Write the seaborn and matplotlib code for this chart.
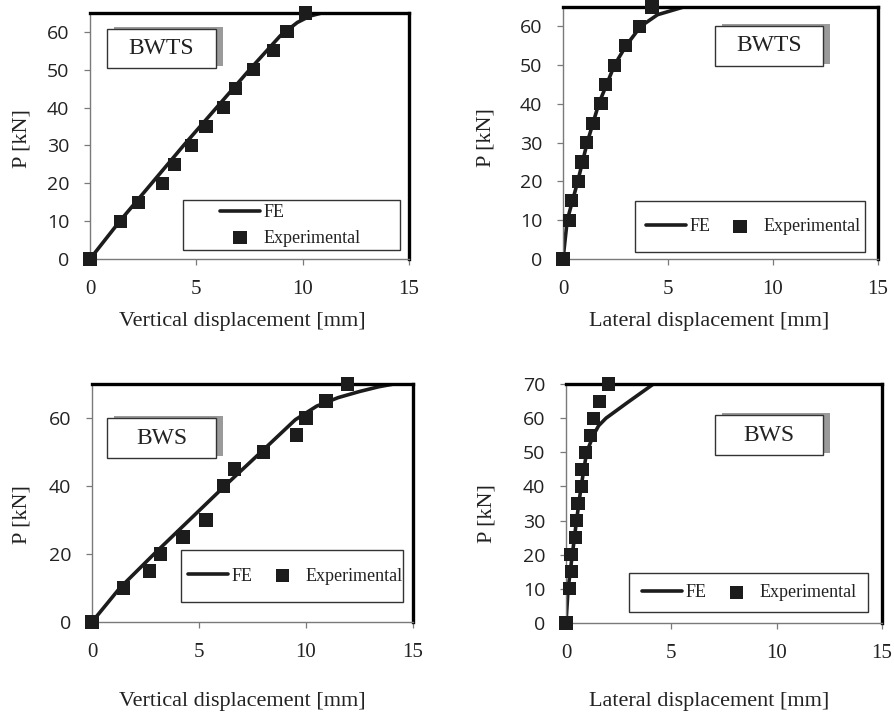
import numpy as np
import pandas as pd
import seaborn as sns
import matplotlib.pyplot as plt
from matplotlib.patches import Rectangle

# BWTS - vertical displacement
bwts_v_exp_x = [0, 1.44, 2.28, 3.40, 3.99, 4.76, 5.45, 6.29, 6.85, 7.67, 8.64, 9.26, 10.13]
bwts_v_exp_p = [0, 10, 15, 20, 25, 30, 35, 40, 45, 50, 55, 60, 65]
bwts_v_fe_x = [0, 1.4, 2.9, 4.4, 5.95, 7.5, 8.95, 9.75, 10.35, 10.9]
bwts_v_fe_p = [0, 10, 20, 30, 40, 50, 59, 62.5, 64.2, 65]

# BWTS - lateral displacement
bwts_l_exp_x = [0, 0.32, 0.42, 0.73, 0.90, 1.11, 1.43, 1.81, 2.02, 2.44, 2.97, 3.65, 4.24]
bwts_l_exp_p = [0, 10, 15, 20, 25, 30, 35, 40, 45, 50, 55, 60, 65]
bwts_l_fe_x = [0, 0.2, 0.45, 0.7, 1.15, 1.7, 2.45, 3.0, 3.7, 4.5, 5.75]
bwts_l_fe_p = [0, 10, 15, 20, 30, 40, 50, 55, 60, 63, 65]

# BWS - vertical displacement
bws_v_exp_x = [0, 1.48, 2.67, 3.19, 4.25, 5.33, 6.14, 6.66, 8.01, 9.56, 10.0, 10.93, 11.93]
bws_v_exp_p = [0, 10, 15, 20, 25, 30, 40, 45, 50, 55, 60, 65, 70]
bws_v_fe_x = [0, 1.3, 2.9, 4.55, 6.2, 7.9, 9.5, 10.5, 11.5, 12.5, 13.4, 14.1]
bws_v_fe_p = [0, 10, 20, 30, 40, 50, 59.5, 63.5, 66, 67.8, 69.2, 70]

# BWS - lateral displacement
bws_l_exp_x = [0, 0.16, 0.25, 0.24, 0.44, 0.49, 0.57, 0.73, 0.76, 0.92, 1.16, 1.31, 1.60, 2.03]
bws_l_exp_p = [0, 10, 15, 20, 25, 30, 35, 40, 45, 50, 55, 60, 65, 70]
bws_l_fe_x = [0, 0.1, 0.3, 0.5, 0.72, 0.98, 1.3, 1.55, 1.9, 2.9, 4.15]
bws_l_fe_p = [0, 10, 20, 30, 40, 50, 55, 57.8, 60, 64.5, 70]

panels = [
    dict(pos=[0.1007, 0.6388, 0.3568, 0.3431], fe=(bwts_v_fe_x, bwts_v_fe_p),
         exp=(bwts_v_exp_x, bwts_v_exp_p), ymax=65, yticks=range(0, 61, 10),
         xlabel='Vertical displacement [mm]', name='BWTS',
         box=(0.053, 0.776, 0.342, 0.159),
         frame=(0.292, 0.037, 0.680, 0.203), anchor=(0.408, 0.136), ncol=1,
         xl=(0.476, -0.256), yl=(-0.213, 0.49)),
    dict(pos=[0.6298, 0.6388, 0.3523, 0.3515], fe=(bwts_l_fe_x, bwts_l_fe_p),
         exp=(bwts_l_exp_x, bwts_l_exp_p), ymax=65, yticks=range(0, 61, 10),
         xlabel='Lateral displacement [mm]', name='BWTS',
         box=(0.483, 0.766, 0.342, 0.159),
         frame=(0.229, 0.028, 0.730, 0.202), anchor=(0.263, 0.129), ncol=2,
         xl=(0.463, -0.25), yl=(-0.244, 0.48)),
    dict(pos=[0.1029, 0.1325, 0.3591, 0.3319], fe=(bws_v_fe_x, bws_v_fe_p),
         exp=(bws_v_exp_x, bws_v_exp_p), ymax=70, yticks=range(0, 61, 20),
         xlabel='Vertical displacement [mm]', name='BWS',
         box=(0.047, 0.689, 0.339, 0.168),
         frame=(0.277, 0.084, 0.692, 0.219), anchor=(0.299, 0.193), ncol=2,
         xl=(0.467, -0.336), yl=(-0.218, 0.45)),
    dict(pos=[0.6331, 0.1311, 0.3535, 0.3333], fe=(bws_l_fe_x, bws_l_fe_p),
         exp=(bws_l_exp_x, bws_l_exp_p), ymax=70, yticks=range(0, 71, 10),
         xlabel='Lateral displacement [mm]', name='BWS',
         box=(0.472, 0.703, 0.341, 0.167),
         frame=(0.199, 0.046, 0.757, 0.163), anchor=(0.241, 0.126), ncol=2,
         xl=(0.453, -0.33), yl=(-0.25, 0.456)),
]

sns.set_theme(style='white')
plt.rcParams['font.family'] = ['Liberation Serif', 'DejaVu Serif']

fig = plt.figure(figsize=(8.94, 7.17), dpi=100)
ink = '#1c1c1c'

for p in panels:
    ax = fig.add_axes(p['pos'])
    fe = pd.DataFrame({'x': p['fe'][0], 'P': p['fe'][1]})
    ex = pd.DataFrame({'x': p['exp'][0], 'P': p['exp'][1]})
    sns.lineplot(data=fe, x='x', y='P', sort=False, color=ink, linewidth=2.6,
                 label='FE', ax=ax)
    sns.scatterplot(data=ex, x='x', y='P', marker='s', s=90, color=ink,
                    edgecolor='none', label='Experimental', ax=ax, clip_on=False,
                    zorder=5)
    ax.set_xlim(0, 15)
    ax.set_ylim(0, p['ymax'])
    ax.set_xticks([0, 5, 10, 15])
    ax.set_yticks(list(p['yticks']))

    for s in ['top', 'right']:
        ax.spines[s].set_color('black')
        ax.spines[s].set_linewidth(2.4)
    for s in ['left', 'bottom']:
        ax.spines[s].set_color('#7a7a7a')
        ax.spines[s].set_linewidth(1.0)

    ax.tick_params(axis='both', direction='out', length=4, width=0.9,
                   color='#7a7a7a', bottom=True, left=True)
    ax.tick_params(axis='x', pad=11, labelsize=15)
    ax.tick_params(axis='y', pad=11, labelsize=14)
    for t in ax.get_yticklabels():
        t.set_fontfamily('Open Sans')
        t.set_color('#222222')
    for t in ax.get_xticklabels():
        t.set_color('#222222')

    ax.set_xlabel(p['xlabel'], fontsize=16, color='#222222', va='center')
    ax.xaxis.set_label_coords(*p['xl'])
    ax.set_ylabel('P [kN]', fontsize=16, color='#222222', va='center')
    ax.yaxis.set_label_coords(*p['yl'])

    # name box with grey shadow
    bx, by, bw, bh = p['box']
    ax.add_patch(Rectangle((bx + 0.022, by + 0.008), bw, bh, transform=ax.transAxes,
                           facecolor='#9a9a9a', edgecolor='none', zorder=6,
                           clip_on=False))
    ax.add_patch(Rectangle((bx, by), bw, bh, transform=ax.transAxes,
                           facecolor='white', edgecolor='#333333', linewidth=1.0,
                           zorder=7, clip_on=False))
    ax.text(bx + bw / 2, by + bh / 2, p['name'], transform=ax.transAxes,
            ha='center', va='center', fontsize=17, color='#222222', zorder=8)

    # legend frame drawn separately, entries placed inside
    fx, fy, fw, fh = p['frame']
    ax.add_patch(Rectangle((fx, fy), fw, fh, transform=ax.transAxes,
                           facecolor='white', edgecolor='#333333', linewidth=1.0,
                           zorder=7, clip_on=False))
    leg = ax.legend(loc='center left', bbox_to_anchor=p['anchor'], ncol=p['ncol'],
                    fontsize=13, frameon=False, borderpad=0, borderaxespad=0,
                    handlelength=2.2, handletextpad=0.2, columnspacing=0.55,
                    labelspacing=0.45)
    leg.set_zorder(9)
    for t in leg.get_texts():
        t.set_color('#222222')

plt.savefig('out.png', dpi=100)
